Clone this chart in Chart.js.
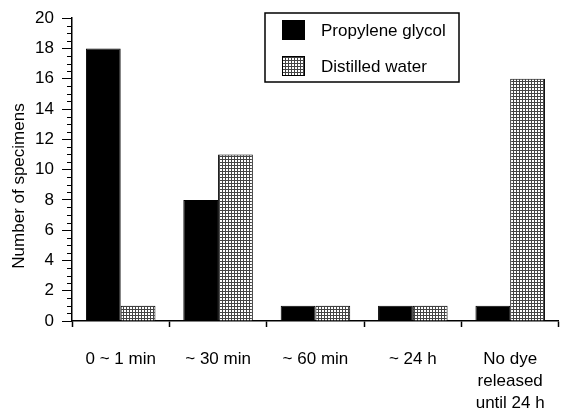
<!DOCTYPE html>
<html>
<head>
<meta charset="utf-8">
<script src="https://cdn.jsdelivr.net/npm/chart.js@4/dist/chart.umd.min.js"></script>
<style>
  html, body { margin: 0; padding: 0; background: #fff; }
  #wrap { width: 567px; height: 409px; }
</style>
</head>
<body>
<div id="wrap"><canvas id="chart" width="567" height="409"></canvas></div>
<script>
const categories = ['0 ~ 1 min', '~ 30 min', '~ 60 min', '~ 24 h', ['No dye', 'released', 'until 24 h']];
const propyleneGlycol = [18, 8, 1, 1, 1];
const distilledWater = [1, 11, 1, 1, 16];
const yTicks = [0, 2, 4, 6, 8, 10, 12, 14, 16, 18, 20];
const yTitle = 'Number of specimens';

const FONT = '"Liberation Sans", Arial, Helvetica, sans-serif';

// stippled fill for the water bars
function makePattern() {
  const c = document.createElement('canvas');
  c.width = 3; c.height = 3;
  const g = c.getContext('2d');
  g.fillStyle = '#fff';
  g.fillRect(0, 0, 3, 3);
  g.fillStyle = '#444';
  g.fillRect(0, 0, 3, 1);
  g.fillRect(0, 0, 1, 3);
  return g.createPattern(c, 'repeat');
}
const stipple = makePattern();

// minor ticks, y title and the boxed legend inside the plot
const extras = {
  id: 'extras',
  afterDraw(chart) {
    const ctx = chart.ctx;
    const y = chart.scales.y;
    const left = y.right;
    ctx.save();
    ctx.strokeStyle = '#000';
    ctx.lineWidth = 1;
    for (let v = 0; v <= 20; v += 0.5) {
      if (v % 2 === 0) continue;
      const py = Math.round(y.getPixelForValue(v)) + 0.5;
      ctx.beginPath();
      ctx.moveTo(left - 5, py);
      ctx.lineTo(left, py);
      ctx.stroke();
    }

    // y title (sits a bit below the axis middle in the original)
    ctx.save();
    ctx.translate(19, 186);
    ctx.rotate(-Math.PI / 2);
    ctx.font = '17px ' + FONT;
    ctx.fillStyle = '#000';
    ctx.textAlign = 'center';
    ctx.textBaseline = 'middle';
    ctx.fillText(yTitle, 0, 0);
    ctx.restore();

    // legend
    const bx = 265, by = 13, bw = 194, bh = 69;
    ctx.lineWidth = 1.5;
    ctx.strokeRect(bx, by, bw, bh);
    ctx.font = '17px ' + FONT;
    ctx.textBaseline = 'middle';
    chart.data.datasets.forEach((ds, i) => {
      const sy = i === 0 ? 20 : 56;
      ctx.fillStyle = ds.backgroundColor;
      ctx.fillRect(282, sy, 23, 20);
      ctx.lineWidth = 1;
      ctx.strokeRect(282.5, sy + 0.5, 22, 19);
      ctx.fillStyle = '#000';
      ctx.fillText(ds.label, 321, sy + 11);
    });
    ctx.restore();
  }
};

new Chart(document.getElementById('chart'), {
  type: 'bar',
  data: {
    labels: categories,
    datasets: [
      {
        label: 'Propylene glycol',
        data: propyleneGlycol,
        backgroundColor: '#000',
        borderColor: '#000',
        borderWidth: 1
      },
      {
        label: 'Distilled water',
        data: distilledWater,
        backgroundColor: stipple,
        borderColor: '#000',
        borderWidth: 1
      }
    ]
  },
  options: {
    responsive: false,
    animation: false,
    layout: { padding: { left: 0, right: 3, top: 17, bottom: 0 } },
    datasets: {
      bar: { categoryPercentage: 0.714, barPercentage: 1.0 }
    },
    plugins: {
      legend: { display: false },
      tooltip: { enabled: false }
    },
    scales: {
      x: {
        afterFit(axis) { axis.height = 88; },
        grid: {
          offset: true,
          drawOnChartArea: false,
          tickLength: 6,
          tickColor: '#000',
          tickWidth: 1.5
        },
        border: { color: '#000', width: 1.5 },
        ticks: {
          color: '#000',
          font: { family: FONT, size: 17, lineHeight: 1.27 },
          padding: 22,
          maxRotation: 0,
          autoSkip: false
        }
      },
      y: {
        min: 0,
        max: 20,
        afterBuildTicks(axis) {
          axis.ticks = yTicks.map(v => ({ value: v }));
        },
        afterFit(axis) { axis.width = 72; },
        grid: {
          drawOnChartArea: false,
          tickLength: 10,
          tickColor: '#000',
          tickWidth: 1
        },
        border: { color: '#000', width: 1.5 },
        ticks: {
          color: '#000',
          font: { family: FONT, size: 17 },
          padding: 8
        }
      }
    }
  },
  plugins: [extras]
});
</script>
</body>
</html>
